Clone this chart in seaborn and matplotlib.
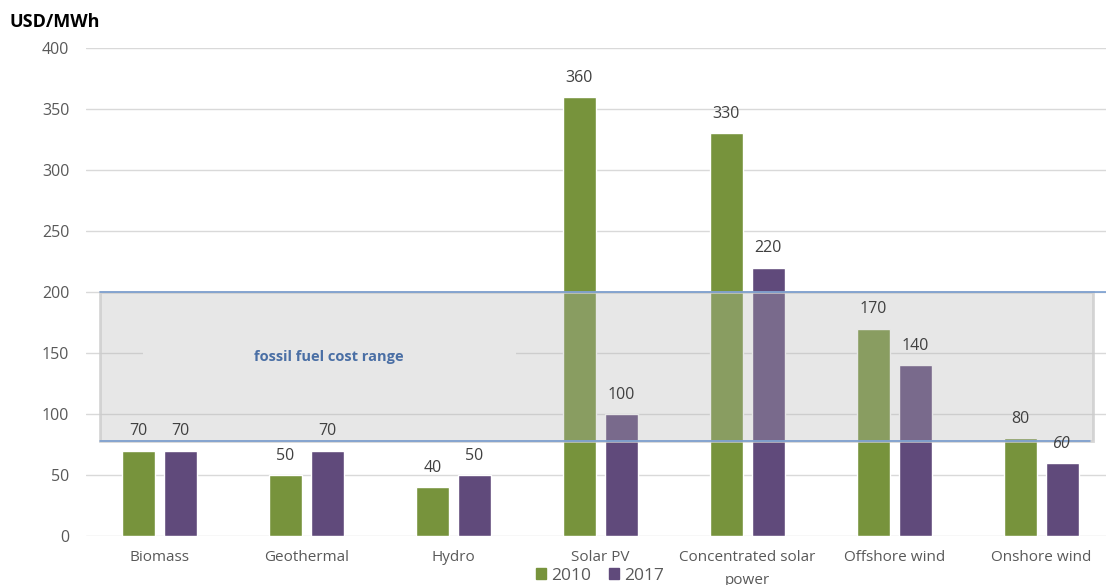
import pandas as pd
import numpy as np
import matplotlib.pyplot as plt
import seaborn as sns
from matplotlib.patches import Rectangle

sns.set_style("white")
plt.rcParams['font.family'] = ['Open Sans', 'DejaVu Sans']

# data
technologies = ['Biomass', 'Geothermal', 'Hydro', 'Solar PV',
                'Concentrated solar\npower', 'Offshore wind', 'Onshore wind']
cost_2010 = [70, 50, 40, 360, 330, 170, 80]
cost_2017 = [70, 70, 50, 100, 220, 140, 60]
years = ['2010', '2017']
fossil_low, fossil_high = 78, 200

df = pd.DataFrame({
    'tech': technologies * 2,
    'cost': cost_2010 + cost_2017,
    'year': ['2010'] * 7 + ['2017'] * 7,
})

colors = {'2010': '#77933c', '2017': '#604a7b'}

fig = plt.figure(figsize=(11.06, 5.85), dpi=100)
ax = fig.add_axes([86 / 1106, 49 / 585, 1020 / 1106, 488 / 585])

sns.barplot(data=df, x='tech', y='cost', hue='year', palette=colors,
            width=0.57, gap=0.21, legend=False, ax=ax, zorder=2,
            saturation=1)

ax.set_xlim(-0.5, 6.44)
ax.set_ylim(0, 400)
ax.set_yticks(np.arange(0, 401, 50))
ax.grid(axis='y', color='#d9d9d9', linewidth=1, zorder=0)
ax.set_axisbelow(True)
for s in ax.spines.values():
    s.set_visible(False)
ax.set_xlabel('')
ax.set_ylabel('')
ax.tick_params(axis='y', length=0, pad=12, labelsize=11.5, labelcolor='#595959')
ax.tick_params(axis='x', length=0, pad=10, labelsize=11, labelcolor='#595959')
for lab in ax.get_xticklabels():
    lab.set_linespacing(1.75)

# value labels
for cont in ax.containers:
    texts = ax.bar_label(cont, fmt='%d', padding=8, fontsize=11.5,
                         color='#404040', zorder=6)
texts[-1].set_style('italic')

# fossil fuel band
band = Rectangle((-0.405, fossil_low), 6.35 + 0.405, fossil_high - fossil_low,
                 facecolor=(0.706, 0.706, 0.706, 0.31),
                 edgecolor=(0.8, 0.8, 0.8, 0.8), linewidth=2, zorder=3)
ax.add_patch(band)
ax.add_patch(Rectangle((-0.112, 142), 2.54, 14, facecolor='white',
                       edgecolor='none', zorder=1))
ax.plot([-0.405, 6.44], [fossil_high, fossil_high], color='#7098cf', lw=1.1, zorder=4)
ax.plot([-0.405, 6.33], [fossil_low - 0.5, fossil_low - 0.5], color='#7098cf', lw=1.1, zorder=4)
ax.text(1.15, 147, 'fossil fuel cost range', ha='center', va='center',
        fontsize=10.5, fontweight='bold', color='#4a6fa5', zorder=6)

fig.text(0.009, 0.962, 'USD/MWh', fontsize=13, fontweight='bold',
         color='black', ha='left', va='center')

handles = [Rectangle((0, 0), 1, 1, color=colors[y]) for y in years]
fig.legend(handles, years, loc='center', bbox_to_anchor=(600 / 1106, 1 - 576 / 585),
           ncol=2, frameon=False, fontsize=12.5, handlelength=0.6, handleheight=0.6,
           handletextpad=0.3, columnspacing=1.0, labelcolor='#595959',
           borderpad=0, borderaxespad=0)

fig.savefig('out.png', dpi=100)
